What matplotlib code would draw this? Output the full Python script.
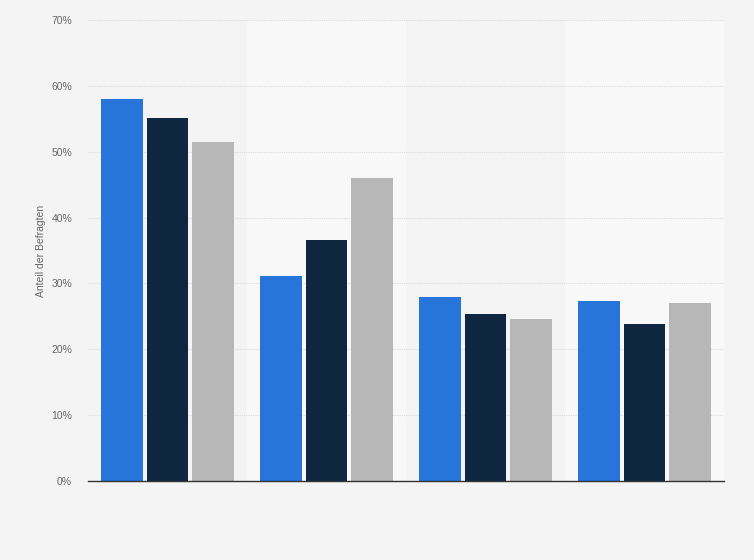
import matplotlib.pyplot as plt
import numpy as np

plt.rcParams["font.family"] = ["Liberation Sans", "DejaVu Sans"]

# values (percent)
groups = ["A", "B", "C", "D"]
series_blue = [58.0, 31.2, 27.9, 27.3]
series_dark = [55.1, 36.6, 25.3, 23.8]
series_gray = [51.5, 46.0, 24.6, 27.0]
yticks = [0, 10, 20, 30, 40, 50, 60, 70]
ylabel = "Anteil der Befragten"

BG = "#f4f4f4"
BAND = "#f8f8f8"
colors = ["#2775db", "#0f2640", "#b7b7b7"]

fig = plt.figure(figsize=(7.54, 5.6), dpi=100, facecolor=BG)
ax = fig.add_axes([88 / 754, 79 / 560, 636 / 754, 461 / 560])
ax.set_facecolor(BG)

x = np.arange(len(groups))
for i in x:
    if i % 2 == 1:
        ax.axvspan(i - 0.5, i + 0.5, color=BAND, zorder=0, lw=0)

width = 0.264
step = 0.289
for k, (vals, c) in enumerate(zip([series_blue, series_dark, series_gray], colors)):
    ax.bar(x + (k - 1) * step, vals, width=width, color=c, zorder=3, lw=0)

ax.set_xlim(-0.5, len(groups) - 0.5)
ax.set_ylim(0, 70)
ax.set_yticks(yticks)
ax.set_yticklabels([f"{t}%" for t in yticks], fontsize=7.5, color="#666666")
ax.set_xticks([])
ax.tick_params(axis="y", length=0, pad=11.5)
ax.yaxis.grid(True, color="#dcdcdc", linestyle=(0, (1, 1)), linewidth=0.8, zorder=1)
for s in ["top", "right", "left"]:
    ax.spines[s].set_visible(False)
ax.spines["bottom"].set_color("#333333")
ax.spines["bottom"].set_linewidth(1.0)
ax.spines["bottom"].set_zorder(4)

ax.set_ylabel(ylabel, fontsize=7.5, color="#666666", labelpad=4)

fig.savefig("out.png", dpi=100, facecolor=BG)
